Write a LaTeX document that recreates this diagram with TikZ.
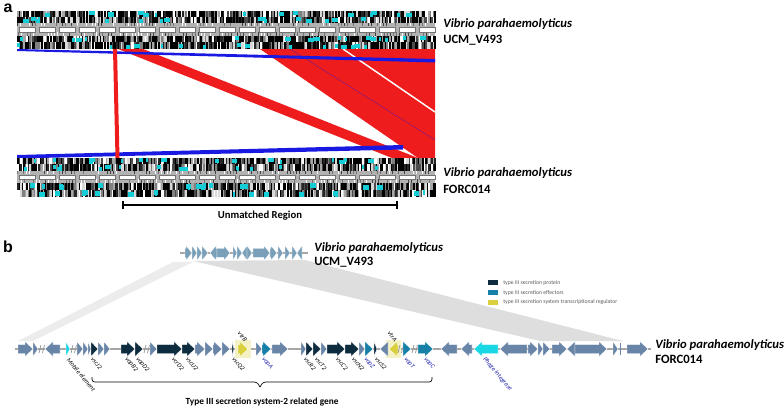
\documentclass[tikz,border=0pt]{standalone}
\usepackage{fontspec}
\setmainfont{Carlito}
\newfontfamily\arialfont{Liberation Sans}
\usetikzlibrary{calc}
\definecolor{CmpRed}{RGB}{238,28,28}
\definecolor{CmpBlue}{RGB}{25,25,225}
\definecolor{TrackCyan}{RGB}{20,205,215}
\definecolor{GeneSlate}{RGB}{104,132,166}
\definecolor{GeneTop}{RGB}{122,160,185}
\definecolor{GeneDark}{RGB}{14,44,64}
\definecolor{GeneEff}{RGB}{22,128,168}
\definecolor{GeneCyan}{RGB}{25,215,228}
\definecolor{GeneYel}{RGB}{218,208,62}
\definecolor{ShadeL}{RGB}{236,236,236}
\definecolor{ShadeR}{RGB}{222,222,222}
\definecolor{LabBlue}{RGB}{30,30,170}
\tikzset{
	gene/.style={draw=white,line width=0.3pt},
	species/.style={anchor=west,inner sep=0pt,font=\fontsize{9.5}{11}\selectfont\bfseries\itshape},
	strain/.style={anchor=west,inner sep=0pt,font=\fontsize{9.5}{11}\selectfont\bfseries},
	panel/.style={inner sep=0pt,font=\arialfont\fontsize{12}{14}\selectfont\bfseries},
	glab/.style={anchor=west,inner sep=0pt,rotate=-50,font=\fontsize{4.8}{5.5}\selectfont\itshape},
	glabup/.style={anchor=east,inner sep=0pt,rotate=-50,font=\fontsize{4.8}{5.5}\selectfont\itshape},
	legtext/.style={anchor=west,inner sep=0pt,text=black!65,font=\fontsize{4.3}{5}\selectfont},
	brk/.style={draw=gray!80,line width=0.6pt},
}
\pgfmathdeclarerandomlist{tkcol}{{black}{black}{black}{black}{black!85}{black!70}{black!50}{black!35}{black!15}{white}}
\pgfmathdeclarerandomlist{rlcol}{{black!30}{black!30}{black!55}{black!75}{white}}
% one barcode strip of the genome track
\newcommand{\darkrow}[2]{%
	\foreach \i in {0,...,278}{
		\pgfmathrandomitem{\tkc}{tkcol}
		\fill[fill=\tkc] ({17+1.5*\i},#1) rectangle ++(1.5,{#2-#1});
	}
	\foreach \j in {1,...,16}{
		\pgfmathrandominteger{\cx}{17}{428}
		\pgfmathrandominteger{\cw}{2}{6}
		\pgfmathrandominteger{\cy}{0}{2}
		\fill[TrackCyan] (\cx,{#1+0.5+\cy}) rectangle ++(\cw,{#2-#1-2.5});
	}
}
% ruler strip with white boxes
\newcommand{\rulerrow}[2]{%
	\fill[black!30] (17,#1) rectangle (435,#2);
	\foreach \i in {0,...,138}{
		\pgfmathrandomitem{\tkc}{rlcol}
		\fill[fill=\tkc] ({17+3*\i},#1) rectangle ++(1.2,3);
		\pgfmathrandomitem{\tkc}{rlcol}
		\fill[fill=\tkc] ({18+3*\i},#2) rectangle ++(1.2,-3.5);
	}
	\foreach \b in {0,...,20}
		\filldraw[fill=white,draw=black!55,line width=0.2pt] ({19+20*\b},{#1+4}) rectangle ++(16,4.5);
}
% genes: \gR/\gL{from}{to}{colour}
\newcommand{\gR}[3]{\fill[gene,fill=#3] (#1,{\gy-\gs}) -- ({max(#1,#2-\gh)},{\gy-\gs}) -- ({max(#1,#2-\gh)},{\gy-\ga}) -- (#2,\gy) -- ({max(#1,#2-\gh)},{\gy+\ga}) -- ({max(#1,#2-\gh)},{\gy+\gs}) -- (#1,{\gy+\gs}) -- cycle;}
\newcommand{\gL}[3]{\fill[gene,fill=#3] (#2,{\gy-\gs}) -- ({min(#2,#1+\gh)},{\gy-\gs}) -- ({min(#2,#1+\gh)},{\gy-\ga}) -- (#1,\gy) -- ({min(#2,#1+\gh)},{\gy+\ga}) -- ({min(#2,#1+\gh)},{\gy+\gs}) -- (#2,{\gy+\gs}) -- cycle;}
\newcommand{\brkmark}[1]{\draw[brk] ({#1-2},{\gy+4}) -- ({#1},{\gy-4}) ({#1+1.5},{\gy+4}) -- ({#1+3.5},{\gy-4});}

\begin{document}
\begin{tikzpicture}[x=0.75pt,y=-0.75pt]
	\useasboundingbox (0,0) rectangle (784,409);
	\pgfmathsetseed{7}
	% ---- panel a ----
	\node[panel] (pa) at (8,8) {a};
	% matches between the two genomes
	\fill[CmpRed] (118,49) -- (143,49) -- (418,158) -- (392,158) -- cycle;
	\fill[CmpRed] (260,49) -- (435,49) -- (435,158) -- (418,158) -- cycle;
	\draw[white,line width=1.1pt] (343,49) -- (435,112);
	\draw[CmpBlue!60!CmpRed,line width=0.3pt] (290,49) -- (435,140);
	\fill[CmpBlue] (17,49) -- (435,59) -- (435,62.5) -- (17,51) -- cycle;
	\fill[CmpBlue] (17,155) -- (403,145) -- (403,149.5) -- (17,158.5) -- cycle;
	\fill[CmpRed] (113,49) -- (117,49) -- (119.5,158) -- (115.5,158) -- cycle;
	% genome tracks
	\darkrow{11}{17}
	\darkrow{17}{23.5}
	\rulerrow{23.5}{36}
	\darkrow{36}{42.5}
	\darkrow{42.5}{49}
	\darkrow{158}{164.5}
	\darkrow{164.5}{171}
	\rulerrow{171}{183}
	\darkrow{183}{190}
	\darkrow{190}{197}
	\node[species] (spA1) at (443,24) {Vibrio parahaemolyticus};
	\node[strain] (stA1) at (443,40) {UCM\_V493};
	\node[species] (spA2) at (443,173) {Vibrio parahaemolyticus};
	\node[strain] (stA2) at (443,189) {FORC014};
	% unmatched region bar
	\coordinate (barL) at (123,205);
	\coordinate (barR) at (397,205);
	\draw[line width=0.8pt] (barL) -- (barR);
	\draw[line width=1.6pt] ([yshift=3pt]barL) -- ([yshift=-3pt]barL) ([yshift=3pt]barR) -- ([yshift=-3pt]barR);
	\node[font=\fontsize{8}{10}\selectfont\bfseries] (unm) at (260,216) {Unmatched Region};

	% ---- panel b ----
	\node[panel] (pb) at (8,247) {b};
	\fill[ShadeL] (173,262) -- (193,262) -- (33,341) -- (18,341) -- cycle;
	\fill[ShadeR] (193,261) -- (305,260) -- (623,341) -- (540,341) -- cycle;
	% UCM_V493 region
	\def\gy{253}\def\gs{4.5}\def\ga{7.5}\def\gh{6}
	\draw[gray!70,line width=0.8pt] (180,253) -- (308,253);
	\gR{185}{192}{GeneTop}\gR{192}{197}{GeneTop}\gR{197}{202}{GeneTop}\gR{202}{208}{GeneTop}
	\gL{210}{217}{GeneTop}\gR{217}{230}{GeneTop}\gR{233}{237}{GeneTop}\gR{237}{242}{GeneTop}
	\gL{242}{247}{GeneTop}\gR{247}{252}{GeneTop}\gR{253}{270}{GeneTop}\gR{270}{277}{GeneTop}
	\gR{278}{283}{GeneTop}\gR{285}{290}{GeneTop}\gR{292}{297}{GeneTop}\gL{297}{302}{GeneTop}
	\node[species] (spB1) at (314,248) {Vibrio parahaemolyticus};
	\node[strain] (stB1) at (314,262) {UCM\_V493};
	% FORC014 region
	\def\gy{349}\def\gs{4.5}\def\ga{7.5}\def\gh{8}
	\draw[gray!70,line width=0.8pt] (15,349) -- (651,349);
	\fill[GeneYel!30] (235,340) rectangle (251,358);
	\fill[GeneYel!30] (386,340) rectangle (401,358);
	\gR{18}{33}{GeneSlate}\gR{33}{38}{GeneSlate}\brkmark{41}
	\gL{45}{60}{GeneSlate}\gR{66}{70}{GeneCyan}\brkmark{73}
	\gR{77}{83}{GeneSlate}\gR{83}{88}{GeneSlate}\gR{88}{91}{GeneSlate}
	\gR{91}{98}{GeneDark}\gR{98}{104}{GeneSlate}\gR{104}{110}{GeneSlate}
	\gR{121}{135}{GeneDark}\gR{135}{143}{GeneDark}\brkmark{146}
	\gR{150}{157}{GeneSlate}\gR{157}{182}{GeneDark}\gR{182}{195}{GeneDark}
	\gR{195}{205}{GeneSlate}\gR{205}{213}{GeneSlate}\gR{213}{222}{GeneSlate}\gR{222}{230}{GeneSlate}
	\gR{232}{234}{GeneDark}\gR{238}{248}{GeneYel}
	\gR{256}{262}{GeneSlate}\gR{262}{271}{GeneEff}\gR{272}{288}{GeneSlate}
	\gR{301}{306}{GeneSlate}\gR{306}{313}{GeneDark}\gR{313}{321}{GeneDark}\gR{321}{327}{GeneSlate}
	\gR{327}{345}{GeneDark}\gR{345}{359}{GeneDark}\gR{359}{365}{GeneSlate}\gR{365}{373}{GeneEff}
	\gR{374}{377}{GeneDark}\gL{380}{388}{GeneSlate}\gL{389}{398}{GeneYel}\brkmark{400}
	\gR{403}{411}{GeneEff}\brkmark{414}\gR{418}{433}{GeneEff}
	\gL{441}{457}{GeneSlate}\gL{461}{472}{GeneSlate}\gL{474}{498}{GeneCyan}\gL{500}{527}{GeneSlate}
	\gR{528}{538}{GeneSlate}\gR{538}{543}{GeneSlate}\gR{543}{550}{GeneSlate}\gR{552}{567}{GeneSlate}
	\gL{567}{575}{GeneSlate}\gR{575}{607}{GeneSlate}\gR{613}{618}{GeneSlate}
	\draw[GeneSlate,line width=0.6pt] (620,343) -- (620,355);
	\gR{627}{648}{GeneSlate}
	\node[species] (spB2) at (655,345) {Vibrio parahaemolyticus};
	\node[strain] (stB2) at (655,359) {FORC014};
	% gene names
	\node[glab] (lMob) at (68,359) {Mobile element};
	\node[glab] (lJ) at (92,358) {vscJ2};
	\node[glab] (lB) at (126,358) {vopB2};
	\node[glab] (lD) at (137,358) {vopD2};
	\node[glab] (lcrD) at (173,358) {vcrD2};
	\node[glab] (lU) at (187,358) {vscU2};
	\node[glab] (lQ) at (233,358) {vscQ2};
	\node[glabup] (ltrB) at (246,341) {vtrB};
	\node[glab,text=LabBlue] (lA) at (263,358) {vopA};
	\node[glab] (lR) at (305,358) {vscR2};
	\node[glab] (lT) at (316,358) {vscT2};
	\node[glab] (lC) at (337,358) {vscC2};
	\node[glab] (lN) at (353,358) {vscN2};
	\node[glab,text=LabBlue] (lZ) at (365,358) {vopZ};
	\node[glab] (lS) at (376,358) {vscS2};
	\node[glabup] (ltrA) at (396,341) {vtrA};
	\node[glab,text=LabBlue] (lvT) at (405,358) {vopT};
	\node[glab,text=LabBlue] (lvC) at (425,358) {vopC};
	\node[glab,text=LabBlue] (lPh) at (484,358) {Phage integrase};
	% T3SS2 bracket
	\coordinate (brL) at (92,377);
	\coordinate (brR) at (432,377);
	\coordinate (brM) at (260,387);
	\draw[line width=0.5pt,rounded corners=2pt] (brL) -- (92,382) -- (257,382) -- (brM);
	\draw[line width=0.5pt,rounded corners=2pt] (brR) -- (432,382) -- (263,382) -- (brM);
	\node[font=\fontsize{7}{9}\selectfont\bfseries] (t3) at (262,402) {Type III secretion system-2 related gene};
	% legend
	\fill[GeneDark] (488,280) rectangle (498,285);
	\fill[GeneEff] (488,290) rectangle (498,295);
	\fill[GeneYel] (488,300) rectangle (498,305);
	\node[legtext] (lg1) at (503,282.5) {type III secretion protein};
	\node[legtext] (lg2) at (503,292.5) {type III secretion effectors};
	\node[legtext] (lg3) at (503,302.5) {type III secretion system transcriptional regulator};
\end{tikzpicture}
\end{document}
